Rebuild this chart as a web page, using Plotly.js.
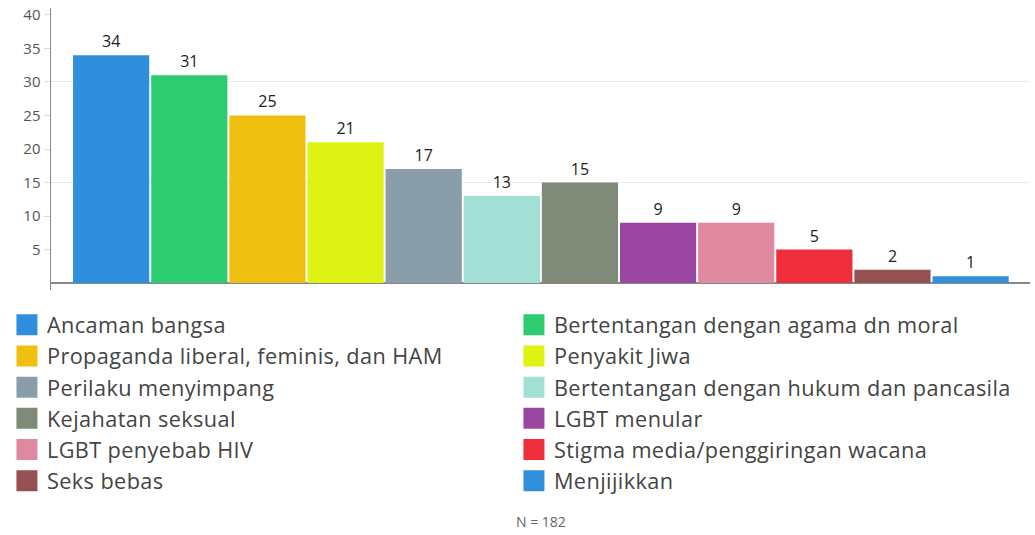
<!DOCTYPE html>
<html>
<head>
<meta charset="utf-8">
<script src="https://cdn.plot.ly/plotly-3.0.1.min.js"></script>
<style>html,body{margin:0;padding:0;background:#fff;}#chart{width:1035px;height:535px;}
#chart .legendtext{letter-spacing:0.4px;}</style>
</head>
<body>
<div id="chart"></div>
<script>
var categories = [
  "Ancaman bangsa",
  "Bertentangan dengan agama dn moral",
  "Propaganda liberal, feminis, dan HAM",
  "Penyakit Jiwa",
  "Perilaku menyimpang",
  "Bertentangan dengan hukum dan pancasila",
  "Kejahatan seksual",
  "LGBT menular",
  "LGBT penyebab HIV",
  "Stigma media/penggiringan wacana",
  "Seks bebas",
  "Menjijikkan"
];
var values = [34, 31, 25, 21, 17, 13, 15, 9, 9, 5, 2, 1];
var colors = ["#2f8fdd", "#2ecc71", "#f0c010", "#def214", "#899ea9", "#a2e0d6",
              "#808a78", "#9b47a2", "#e088a0", "#ee2e3b", "#955151", "#3090dc"];
var yTicks = [5, 10, 15, 20, 25, 30, 35, 40];
var noteText = "N = 182";

var traces = [{
  type: "bar",
  x: categories,
  y: values,
  text: values.map(String),
  textposition: "outside",
  cliponaxis: false,
  textfont: {family: "Open Sans", size: 16, color: "#222"},
  marker: {color: colors, line: {width: 0}},
  showlegend: false,
  hoverinfo: "x+y"
}];
categories.forEach(function (c, i) {
  traces.push({
    type: "scatter",
    mode: "markers",
    x: [c],
    y: [null],
    name: c,
    marker: {symbol: "square", size: 16, color: colors[i], line: {color: colors[i], width: 7}},
    showlegend: true,
    hoverinfo: "skip"
  });
});

var layout = {
  width: 1035,
  height: 535,
  margin: {l: 51, r: 5, t: 8, b: 245},
  paper_bgcolor: "#fff",
  plot_bgcolor: "#fff",
  font: {family: "Open Sans", color: "#444"},
  bargap: 0.025,
  xaxis: {
    type: "category",
    range: [-0.77, 11.76],
    showticklabels: false,
    showgrid: false,
    zeroline: false,
    showline: false,
    ticks: "",
    fixedrange: true
  },
  yaxis: {
    range: [-1.04, 41.04],
    tickvals: yTicks,
    ticktext: yTicks.map(String),
    showgrid: false,
    zeroline: true,
    zerolinecolor: "#888",
    zerolinewidth: 1.5,
    showline: true,
    linecolor: "#888",
    linewidth: 1.5,
    ticks: "outside",
    ticklen: 6,
    tickcolor: "#ddd",
    tickfont: {family: "Open Sans", size: 15, color: "#555"},
    fixedrange: true
  },
  yaxis2: {
    overlaying: "y",
    range: [-1.04, 41.04],
    dtick: 15,
    tick0: 0,
    showticklabels: false,
    showgrid: true,
    gridcolor: "#ececec",
    gridwidth: 1,
    zeroline: false,
    ticks: "",
    fixedrange: true
  },
  legend: {
    orientation: "h",
    x: -0.045,
    xanchor: "left",
    y: -0.05,
    yanchor: "top",
    entrywidth: 462,
    entrywidthmode: "pixels",
    font: {family: "Open Sans", size: 21.7, color: "#444"},
    bgcolor: "rgba(0,0,0,0)",
    itemclick: false,
    itemdoubleclick: false
  },
  annotations: [{
    text: noteText,
    xref: "paper",
    yref: "paper",
    x: 0.5,
    xanchor: "center",
    y: -0.82,
    yanchor: "middle",
    showarrow: false,
    font: {family: "Open Sans", size: 14, color: "#666"}
  }]
};

traces.push({type: "scatter", x: [categories[0]], y: [null], yaxis: "y2", showlegend: false, hoverinfo: "skip"});

Plotly.newPlot("chart", traces, layout, {displayModeBar: false, staticPlot: true});
</script>
</body>
</html>
